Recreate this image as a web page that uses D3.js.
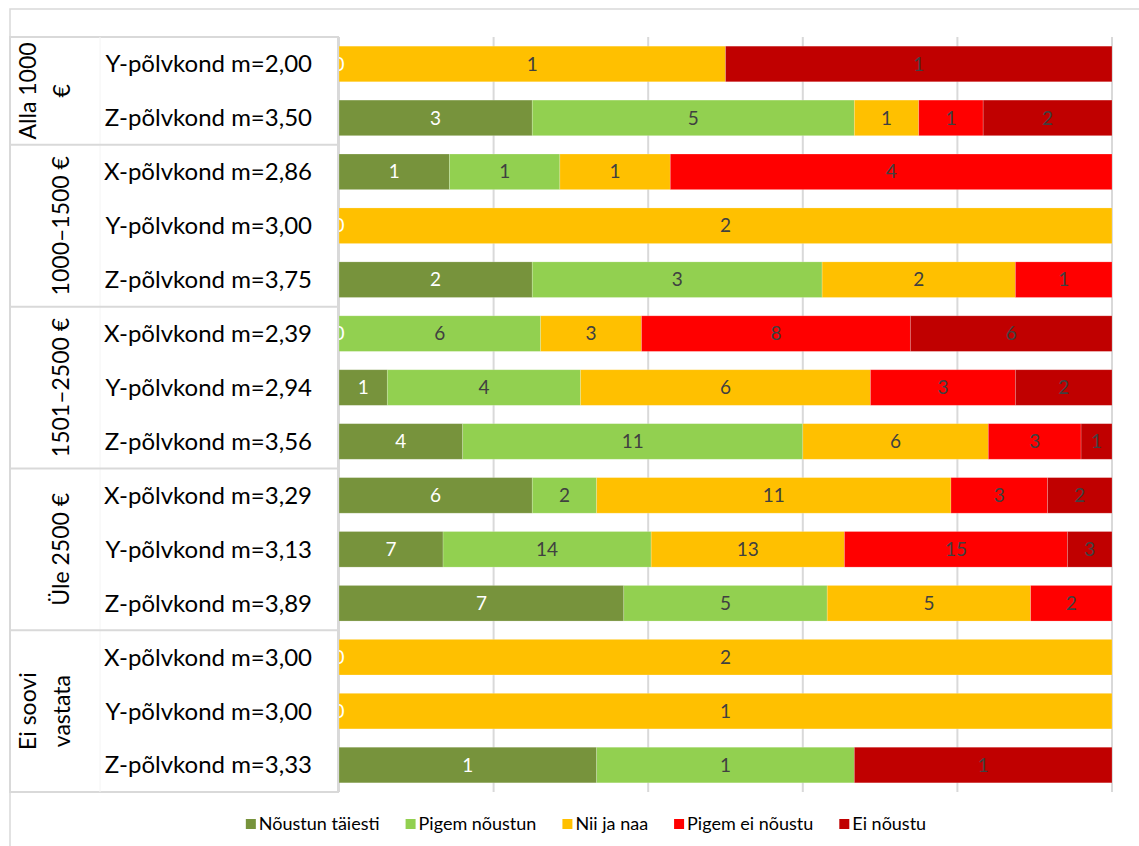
<!DOCTYPE html>
<html>
<head>
<meta charset="utf-8">
<style>
  body { margin: 0; background: #fff; }
  svg text { font-family: Lato, "Open Sans", sans-serif; }
</style>
</head>
<body>
<svg id="chart" width="1139" height="846"></svg>
<script src="https://d3js.org/d3.v7.min.js"></script>
<script>

// answer categories (series)
var answers = ["Nõustun täiesti", "Pigem nõustun", "Nii ja naa", "Pigem ei nõustu", "Ei nõustu"];
var colors = ["#77933C", "#92D050", "#FFC000", "#FF0000", "#C00000"];
var labelColors = ["#fff", "#404040", "#404040", "#404040", "#404040"];

// income groups (outer category)
var groups = [["Alla 1000", "€"], ["1000–1500 €"], ["1501–2500 €"], ["Üle 2500 €"], ["Ei soovi", "vastata"]];
var rowGroup = [0, 0, 1, 1, 1, 2, 2, 2, 3, 3, 3, 4, 4, 4];

// inner category labels
var rowLabels = [
  "Y-põlvkond m=2,00", "Z-põlvkond m=3,50",
  "X-põlvkond m=2,86", "Y-põlvkond m=3,00", "Z-põlvkond m=3,75",
  "X-põlvkond m=2,39", "Y-põlvkond m=2,94", "Z-põlvkond m=3,56",
  "X-põlvkond m=3,29", "Y-põlvkond m=3,13", "Z-põlvkond m=3,89",
  "X-põlvkond m=3,00", "Y-põlvkond m=3,00", "Z-põlvkond m=3,33"
];

// counts per answer, one value per row
var noustunTaiesti = [0, 3, 1, 0, 2, 0, 1, 4, 6, 7, 7, 0, 0, 1];
var pigemNoustun   = [0, 5, 1, 0, 3, 6, 4, 11, 2, 14, 5, 0, 0, 1];
var niiJaNaa       = [1, 1, 1, 2, 2, 3, 6, 6, 11, 13, 5, 2, 1, 0];
var pigemEiNoustu  = [0, 1, 4, 0, 1, 8, 3, 3, 3, 15, 2, 0, 0, 0];
var eiNoustu       = [1, 2, 0, 0, 0, 6, 2, 1, 2, 3, 0, 0, 0, 1];

var series = [noustunTaiesti, pigemNoustun, niiJaNaa, pigemEiNoustu, eiNoustu];

var rows = rowLabels.map(function (label, i) {
  var row = { i: i, label: label };
  answers.forEach(function (a, k) { row[a] = series[k][i]; });
  return row;
});

var stacked = d3.stack()
  .keys(answers)
  .offset(d3.stackOffsetExpand)(rows);

var svg = d3.select("#chart");

var plotTop = 37, plotBottom = 792, tableLeft = 10, tableRight = 338;

var x = d3.scaleLinear().domain([0, 1]).range([339, 1112]);
var y = d3.scaleBand()
  .domain(d3.range(rows.length))
  .range([plotTop, plotBottom])
  .paddingInner(0.34)
  .paddingOuter(0.17);

// outer chart border
svg.append("rect")
  .attr("x", 10).attr("y", 9)
  .attr("width", 1160).attr("height", 870)
  .attr("fill", "none")
  .attr("stroke", "#d9d9d9")
  .attr("stroke-width", 1.5);

// gridlines
svg.append("g")
  .selectAll("line")
  .data(x.ticks(5))
  .join("line")
    .attr("x1", function (d) { return x(d); })
    .attr("x2", function (d) { return x(d); })
    .attr("y1", plotTop)
    .attr("y2", plotBottom)
    .attr("stroke", "#d9d9d9")
    .attr("stroke-width", 2);

// bars
var layer = svg.append("g")
  .selectAll("g")
  .data(stacked)
  .join("g")
    .attr("fill", function (d, k) { return colors[k]; });

layer.selectAll("rect")
  .data(function (d) { return d; })
  .join("rect")
    .attr("x", function (d) { return x(d[0]); })
    .attr("y", function (d) { return y(d.data.i); })
    .attr("width", function (d) { return x(d[1]) - x(d[0]); })
    .attr("height", y.bandwidth())
    .attr("stroke", "rgba(255,255,255,0.25)")
    .attr("stroke-width", 0.75);

// data labels (zero labels only for the first series, like the original)
stacked.forEach(function (s, k) {
  svg.append("g")
    .selectAll("text")
    .data(s.filter(function (d) { return d.data[answers[k]] > 0 || k === 0; }))
    .join("text")
      .attr("x", function (d) { return (x(d[0]) + x(d[1])) / 2; })
      .attr("y", function (d) { return y(d.data.i) + y.bandwidth() / 2; })
      .attr("dy", "0.35em")
      .attr("text-anchor", "middle")
      .attr("font-size", 19)
      .attr("fill", labelColors[k])
      .text(function (d) { return d.data[answers[k]]; });
});

// category table on the left (drawn on top)
var table = svg.append("g");
table.append("rect")
  .attr("x", tableLeft).attr("y", plotTop)
  .attr("width", tableRight - tableLeft).attr("height", plotBottom - plotTop)
  .attr("fill", "#fff")
  .attr("stroke", "#d9d9d9")
  .attr("stroke-width", 2);

table.append("line")
  .attr("x1", 100).attr("x2", 100)
  .attr("y1", plotTop).attr("y2", plotBottom)
  .attr("stroke", "#f4f4f4")
  .attr("stroke-width", 1);

// group spans
var spans = groups.map(function (g, gi) {
  var idx = rowGroup.map(function (r, i) { return r === gi ? i : -1; }).filter(function (i) { return i >= 0; });
  var step = y.step();
  return {
    lines: g,
    y0: plotTop + step * idx[0],
    y1: plotTop + step * (idx[idx.length - 1] + 1)
  };
});

table.selectAll("line.sep")
  .data(spans.slice(1))
  .join("line")
    .attr("class", "sep")
    .attr("x1", tableLeft).attr("x2", tableRight)
    .attr("y1", function (d) { return d.y0; })
    .attr("y2", function (d) { return d.y0; })
    .attr("stroke", "#d9d9d9")
    .attr("stroke-width", 2);

spans.forEach(function (s) {
  var cy = (s.y0 + s.y1) / 2;
  var xs = s.lines.length === 1 ? [61] : [28, 62];
  s.lines.forEach(function (t, j) {
    table.append("text")
      .attr("transform", "translate(" + xs[j] + "," + cy + ") rotate(-90)")
      .attr("text-anchor", "middle")
      .attr("dy", "0.35em")
      .attr("font-size", 23)
      .attr("fill", "#000")
      .text(t);
  });
});

table.selectAll("text.row")
  .data(rows)
  .join("text")
    .attr("class", "row")
    .attr("x", 312)
    .attr("y", function (d) { return y(d.i) + y.bandwidth() / 2; })
    .attr("dy", "0.35em")
    .attr("text-anchor", "end")
    .attr("font-size", 24)
    .attr("fill", "#000")
    .text(function (d) { return d.label; });

// legend
var legend = svg.append("g");
var item = legend.selectAll("g")
  .data(answers)
  .join("g");
item.append("rect")
  .attr("y", -5).attr("width", 10).attr("height", 10)
  .attr("fill", function (d, k) { return colors[k]; });
item.append("text")
  .attr("x", 13)
  .attr("dy", "0.35em")
  .attr("font-size", 18)
  .attr("fill", "#000")
  .text(function (d) { return d; });

var pos = 0, gap = 26;
item.each(function () {
  var w = this.getBBox().width;
  d3.select(this).attr("transform", "translate(" + pos + ",0)");
  pos += w + gap;
});
pos -= gap;
legend.attr("transform", "translate(" + (586 - pos / 2) + ",824)");

</script>
</body>
</html>
